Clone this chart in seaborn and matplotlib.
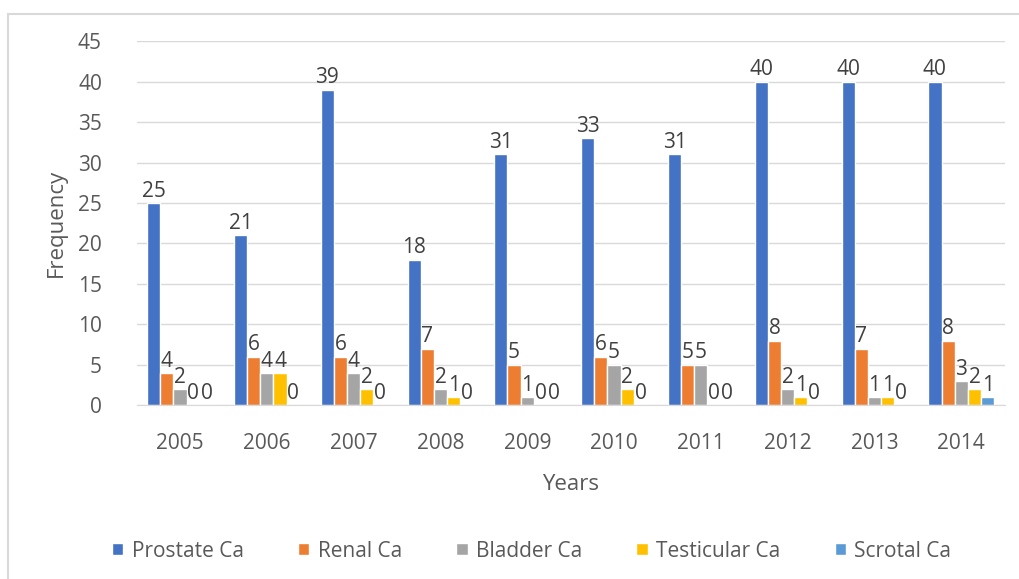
import pandas as pd
import numpy as np
import matplotlib.pyplot as plt
import seaborn as sns
from matplotlib.patches import Rectangle

# Data
years = ["2005", "2006", "2007", "2008", "2009", "2010", "2011", "2012", "2013", "2014"]
prostate = [25, 21, 39, 18, 31, 33, 31, 40, 40, 40]
renal = [4, 6, 6, 7, 5, 6, 5, 8, 7, 8]
bladder = [2, 4, 4, 2, 1, 5, 5, 2, 1, 3]
testicular = [0, 4, 2, 1, 0, 2, 0, 1, 1, 2]
scrotal = [0, 0, 0, 0, 0, 0, 0, 0, 0, 1]

series = ["Prostate Ca", "Renal Ca", "Bladder Ca", "Testicular Ca", "Scrotal Ca"]
colors = ["#4472C4", "#ED7D31", "#A5A5A5", "#FFC000", "#5B9BD5"]

df = pd.DataFrame({"Year": years, "Prostate Ca": prostate, "Renal Ca": renal,
                   "Bladder Ca": bladder, "Testicular Ca": testicular,
                   "Scrotal Ca": scrotal})
long_df = df.melt(id_vars="Year", var_name="Type", value_name="Frequency")

sns.set_style("white")
plt.rcParams['font.family'] = ['Open Sans', 'DejaVu Sans']

fig = plt.figure(figsize=(10.2, 5.79), dpi=100)
ax = fig.add_axes([0.134, 0.30, 0.851, 0.629])

sns.barplot(data=long_df, x="Year", y="Frequency", hue="Type", hue_order=series,
            palette=colors, width=0.76, saturation=1, ax=ax, legend=True)

# value labels on every bar
for c in ax.containers:
    ax.bar_label(c, fontsize=15, color="#404040", padding=1)

ax.set_ylim(0, 45)
ax.set_yticks(range(0, 46, 5))
ax.yaxis.grid(True, color="#D9D9D9", linewidth=1)
ax.set_axisbelow(True)
for s in ["top", "right", "left"]:
    ax.spines[s].set_visible(False)
ax.spines["bottom"].set_color("#D9D9D9")
ax.tick_params(axis="y", length=0, labelsize=15, labelcolor="#595959", pad=25)
ax.tick_params(axis="x", length=0, labelsize=15, labelcolor="#595959", pad=20)
ax.set_xlabel("Years", fontsize=16, color="#595959", labelpad=14)
ax.set_ylabel("Frequency", fontsize=16, color="#595959", labelpad=8)

ax.legend(loc="upper center", bbox_to_anchor=(0.455, -0.32), ncol=5, frameon=False,
          fontsize=15, handlelength=0.55, handleheight=0.55, handletextpad=0.4,
          columnspacing=2.6, labelcolor="#595959")

# light chart-area border
fig.patches.append(Rectangle((0.008, -0.01), 1.0, 0.986, transform=fig.transFigure,
                             fill=False, edgecolor="#D9D9D9", linewidth=1.5))

fig.savefig("out.png", dpi=100)
